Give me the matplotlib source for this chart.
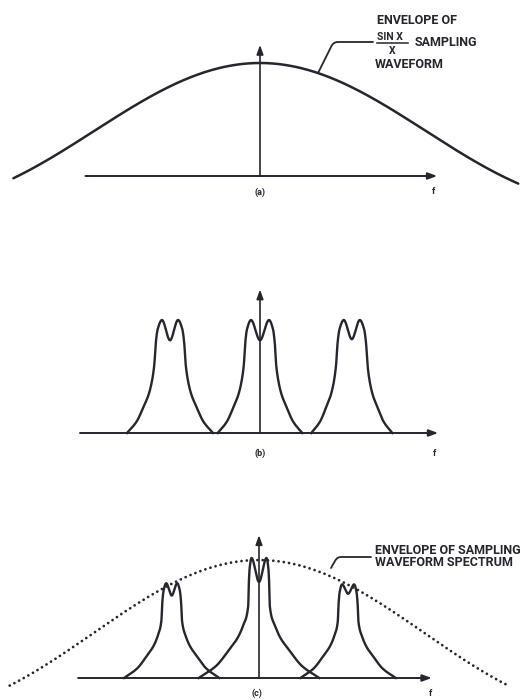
import numpy as np
import matplotlib
matplotlib.use("Agg")
import matplotlib.pyplot as plt
from matplotlib.path import Path
from matplotlib.patches import PathPatch

# ---------------- data (frequency in units of the sampling rate fs) ----------------
# (a) sin x / x envelope of the sampling waveform
env_a_null = 2.78          # first null of the envelope
env_a_gain = 1.035
env_a_floor = -0.035
env_a_span = [-2.74, 2.87]

# (b) baseband spectrum and its replicas
b_centers = [-1.00, 0.00, 1.02]
b_heights = [1.00, 1.00, 1.00]
b_dips = [0.82, 0.82, 0.83]
b_lobe = [0.089, 0.10, 0.089]
b_side = [0.175, 0.18, 0.175]
b_tail = [0.478, 0.47, 0.45]

# (c) replicas weighted by the sampling-waveform envelope
c_centers = [-0.97, 0.00, 0.99]
c_heights = [0.79, 1.00, 0.78]
c_dips = [0.87, 0.80, 0.90]
c_lobe = [0.061, 0.083, 0.067]
c_side = [0.115, 0.12, 0.115]
c_tail = [0.53, 0.67, 0.53]
env_c_null = 2.78
env_c_gain = 1.05
env_c_floor = -0.067
env_c_span = [-2.77, 2.76]

# shared peak profile (normalised)
shoulder_frac = [0.55, 0.8]
shoulder_level = [0.92, 0.80]
side_level = 0.60
tail_t = [0.10, 0.22, 0.36, 0.65, 1.00]
tail_level = [0.44, 0.33, 0.25, 0.10, 0.00]

# ---------------- layout ----------------
W, H = 525, 700
INK = "#26262e"
fig = plt.figure(figsize=(W / 100, H / 100), dpi=100)
fig.patch.set_facecolor("white")

FONT = ["Roboto", "DejaVu Sans"]


def panel(ox, oy, ppf, ppa):
    ax = fig.add_axes([0, 0, 1, 1])
    ax.set_xlim((0 - ox) / ppf, (W - ox) / ppf)
    ax.set_ylim((oy - H) / ppa, oy / ppa)
    ax.axis("off")
    ax.patch.set_alpha(0)
    return ax


def to_data(ax, px, py):
    x0, x1 = ax.get_xlim()
    y0, y1 = ax.get_ylim()
    return x0 + (x1 - x0) * px / W, y0 + (y1 - y0) * (H - py) / H


def pchip(xk, yk, x):
    xk = np.asarray(xk, float)
    yk = np.asarray(yk, float)
    h = np.diff(xk)
    d = np.diff(yk) / h
    m = np.zeros_like(yk)
    for k in range(1, len(xk) - 1):
        if d[k - 1] * d[k] > 0:
            w1 = 2 * h[k] + h[k - 1]
            w2 = h[k] + 2 * h[k - 1]
            m[k] = (w1 + w2) / (w1 / d[k - 1] + w2 / d[k])
    m[0] = d[0]
    m[-1] = d[-1]
    i = np.clip(np.searchsorted(xk, x) - 1, 0, len(h) - 1)
    t = (x - xk[i]) / h[i]
    h00 = 2 * t**3 - 3 * t**2 + 1
    h10 = t**3 - 2 * t**2 + t
    h01 = -2 * t**3 + 3 * t**2
    h11 = t**3 - t**2
    return h00 * yk[i] + h10 * h[i] * m[i] + h01 * yk[i + 1] + h11 * h[i] * m[i + 1]


def peak(center, height, dip, s, w, R, n=700):
    u_half = ([0.0, s] + [s + f * (w - s) for f in shoulder_frac] + [w]
              + [w + t * (R - w) for t in tail_t])
    h_half = [dip, 1.0] + shoulder_level + [side_level] + tail_level
    uk = np.r_[-np.array(u_half[:0:-1]), u_half]
    hk = np.r_[h_half[:0:-1], h_half]
    x = np.linspace(-R, R, n)
    return center + x, pchip(uk, hk, x) * height


def envelope(null, gain, floor, span, n=600):
    f = np.linspace(span[0], span[1], n)
    return f, gain * np.sinc(f / null) + floor


def arrow(ax, x0, y0, x1, y1, lw=1.3):
    ax.annotate("", xy=(x1, y1), xytext=(x0, y0),
                arrowprops=dict(arrowstyle="-|>,head_length=0.55,head_width=0.2",
                                lw=lw, color=INK, shrinkA=0, shrinkB=0,
                                mutation_scale=10))


def ftext(px, py, s, size=9, ha="left", **kw):
    fig.text(px / W, 1 - py / H, s, ha=ha, va="center", fontsize=size,
             fontweight="bold", family=FONT, color=INK, **kw)


def leader(ax, pts_px, end_xy):
    verts = [to_data(ax, *p) for p in pts_px] + [end_xy]
    codes = [Path.MOVETO, Path.LINETO, Path.CURVE3, Path.CURVE3, Path.LINETO]
    ax.add_patch(PathPatch(Path(verts, codes), fill=False, lw=1.3, ec=INK,
                           capstyle="round"))


# ---------------- panel (a) ----------------
ax_a = panel(260, 176, 90, 113)
fa, ea = envelope(env_a_null, env_a_gain, env_a_floor, env_a_span)
ax_a.plot(fa, ea, color=INK, lw=1.8, solid_capstyle="round")
arrow(ax_a, -1.94, 0, 1.97, 0, lw=1.4)
arrow(ax_a, 0, 0, 0, 1.16, lw=1.2)
fa_t = (318 - 260) / 90
ya_t = env_a_gain * np.sinc(fa_t / env_a_null) + env_a_floor
leader(ax_a, [(373, 42), (338, 42), (333, 42), (331, 47)], (fa_t, ya_t))
ftext(377, 21, "ENVELOPE OF")
ftext(377, 37, "SIN X", size=7.5)
ax_a.plot(*zip(to_data(ax_a, 377, 43), to_data(ax_a, 408, 43)), color=INK, lw=1.1)
ftext(392, 51, "X", size=7.5, ha="center")
ftext(415, 43, "SAMPLING")
ftext(375, 64, "WAVEFORM")
ftext(260, 192, "(a)", size=6.5, ha="center")
ftext(433, 192, "f", size=6.5, ha="center")

# ---------------- panel (b) ----------------
ax_b = panel(260, 433, 90, 113)
for c, hgt, dp, s, w, R in zip(b_centers, b_heights, b_dips, b_lobe, b_side, b_tail):
    xs, ys = peak(c, hgt, dp, s, w, R)
    ax_b.plot(xs, ys, color=INK, lw=1.7)
arrow(ax_b, -2.0, 0, 1.98, 0, lw=1.4)
arrow(ax_b, 0, 0, 0, 1.27, lw=1.2)
ftext(260, 453, "(b)", size=6.5, ha="center")
ftext(434, 453, "f", size=6.5, ha="center")

# ---------------- panel (c) ----------------
ax_c = panel(259, 678, 90, 120)
fc, ec = envelope(env_c_null, env_c_gain, env_c_floor, env_c_span)
ax_c.plot(fc, ec, color=INK, lw=2.0, linestyle=(0, (0.01, 1.9)),
          dash_capstyle="round")
for c, hgt, dp, s, w, R in zip(c_centers, c_heights, c_dips, c_lobe, c_side, c_tail):
    xs, ys = peak(c, hgt, dp, s, w, R)
    ax_c.plot(xs, ys, color=INK, lw=1.7)
arrow(ax_c, -2.01, 0, 1.92, 0, lw=1.4)
arrow(ax_c, 0, 0, 0, 1.19, lw=1.2)
leader(ax_c, [(371, 557), (341, 557), (337, 557), (335, 561)],
       to_data(ax_c, 331, 568))
ftext(375, 550, "ENVELOPE OF SAMPLING")
ftext(375, 563, "WAVEFORM SPECTRUM")
ftext(257, 693, "(c)", size=6.5, ha="center")
ftext(430, 693, "f", size=6.5, ha="center")

fig.savefig("out.png", dpi=100, facecolor="white")
